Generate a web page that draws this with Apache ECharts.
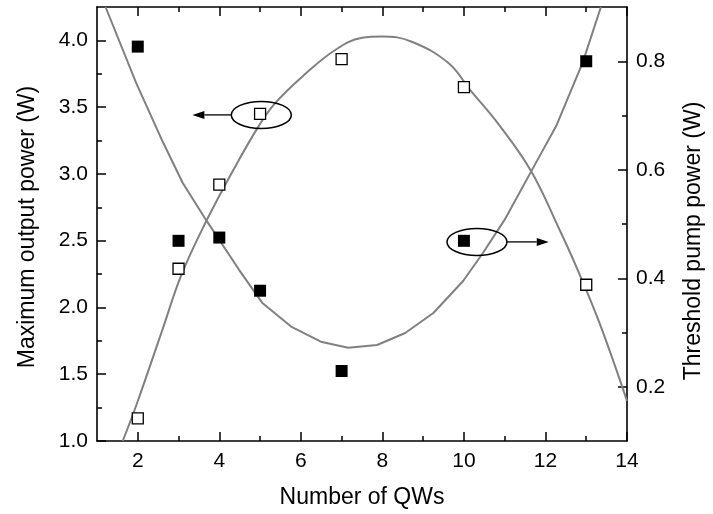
<!DOCTYPE html>
<html>
<head>
<meta charset="utf-8">
<script src="https://cdn.jsdelivr.net/npm/echarts@6/dist/echarts.min.js"></script>
<style>
  html, body { margin: 0; padding: 0; background: #fff; }
  #main { width: 713px; height: 514px; }
</style>
</head>
<body>
<div id="main"></div>
<script>
// measured points (number of QWs)
var qws = [2, 3, 4, 5, 7, 10, 13];
var maxPower = [1.17, 2.29, 2.92, 3.45, 3.86, 3.65, 2.17];       // open squares, left axis
var threshold = [0.827, 0.469, 0.475, 0.377, 0.229, 0.469, 0.80]; // filled squares, right axis

// fitted curves
var fitPowerX = [1.63, 1.96, 2.61, 3.06, 3.62, 4.40, 4.97, 5.37, 6.04, 6.85, 7.50, 7.99, 8.72, 9.62, 10.15, 10.88, 11.65, 12.34, 12.75, 13.32, 14.0];
var fitPowerY = [1.0, 1.264, 1.838, 2.236, 2.61, 3.06, 3.36, 3.53, 3.73, 3.93, 4.02, 4.03, 3.99, 3.83, 3.63, 3.36, 3.02, 2.586, 2.31, 1.888, 1.30];
var fitThrX = [1.21, 1.96, 2.61, 3.10, 3.67, 4.48, 5.05, 5.76, 6.49, 7.16, 7.87, 8.56, 9.25, 9.98, 10.47, 11.0, 11.65, 12.26, 12.91, 13.36];
var fitThrY = [0.90, 0.76, 0.652, 0.576, 0.508, 0.416, 0.355, 0.311, 0.283, 0.272, 0.277, 0.299, 0.336, 0.395, 0.447, 0.508, 0.597, 0.680, 0.797, 0.90];

// tick labels
var xMajor = [2, 4, 6, 8, 10, 12, 14];
var xMinor = [3, 5, 7, 9, 11, 13];
var leftMajor = [1.0, 1.5, 2.0, 2.5, 3.0, 3.5, 4.0];
var leftMinor = [1.25, 1.75, 2.25, 2.75, 3.25, 3.75];
var rightMajor = [0.2, 0.4, 0.6, 0.8];
var rightMinor = [0.3, 0.5, 0.7];

var FONT = "'Liberation Sans', Arial, sans-serif";
var chart = echarts.init(document.getElementById('main'));

function xAx(pos, ticks, len, withLine, withLabel) {
  return {
    type: 'value', position: pos, min: 1, max: 14,
    axisLine: { show: withLine, lineStyle: { color: '#000', width: 1.6 } },
    axisTick: { show: true, inside: true, length: len, customValues: ticks, lineStyle: { color: '#000', width: 1.5 } },
    axisLabel: { show: withLabel, customValues: ticks, margin: 10, color: '#000', fontSize: 21, fontFamily: FONT },
    splitLine: { show: false }
  };
}

function yAx(pos, min, max, ticks, len, withLine, withLabel) {
  return {
    type: 'value', position: pos, min: min, max: max,
    axisLine: { show: withLine, lineStyle: { color: '#000', width: 1.6 } },
    axisTick: { show: true, inside: true, length: len, customValues: ticks, lineStyle: { color: '#000', width: 1.5 } },
    axisLabel: { show: withLabel, customValues: ticks, margin: 9, color: '#000', fontSize: 21, fontFamily: FONT,
      formatter: function (v) { return v.toFixed(1); } },
    splitLine: { show: false }
  };
}

var xBottom = xAx('bottom', xMajor, 9, true, true);
xBottom.name = 'Number of QWs';
xBottom.nameLocation = 'middle';
xBottom.nameGap = 45;
xBottom.nameTextStyle = { color: '#000', fontSize: 23, fontFamily: FONT };

var yLeft = yAx('left', 1, 4.25, leftMajor, 9, true, true);
yLeft.name = 'Maximum output power (W)';
yLeft.nameLocation = 'middle';
yLeft.nameGap = 58;
yLeft.nameTextStyle = { color: '#000', fontSize: 23, fontFamily: FONT, padding: [0, 6, 0, 0] };

var yRight = yAx('right', 0.1, 0.9, rightMajor, 9, true, true);
yRight.name = 'Threshold pump power (W)';
yRight.nameLocation = 'middle';
yRight.nameGap = 55;
yRight.nameTextStyle = { color: '#000', fontSize: 23, fontFamily: FONT, padding: [0, 34, 0, 0] };

option = {
  animation: false,
  backgroundColor: '#fff',
  grid: { left: 97, right: 82, top: 7, bottom: 72 },
  xAxis: [
    xBottom,
    xAx('bottom', xMinor, 5, false, false),
    xAx('top', xMajor, 9, true, false),
    xAx('top', xMinor, 5, false, false)
  ],
  yAxis: [
    yLeft,
    yRight,
    yAx('left', 1, 4.25, leftMinor, 5, false, false),
    yAx('right', 0.1, 0.9, rightMinor, 5, false, false)
  ],
  series: [
    {
      type: 'line', xAxisIndex: 0, yAxisIndex: 0, showSymbol: false, smooth: 0.4,
      data: fitPowerX.map(function (x, i) { return [x, fitPowerY[i]]; }),
      lineStyle: { color: '#808080', width: 2 }, z: 1
    },
    {
      type: 'line', xAxisIndex: 0, yAxisIndex: 1, showSymbol: false,
      data: fitThrX.map(function (x, i) { return [x, fitThrY[i]]; }),
      lineStyle: { color: '#808080', width: 2 }, z: 1
    },
    {
      type: 'scatter', xAxisIndex: 0, yAxisIndex: 0, symbol: 'rect', symbolSize: 11,
      data: qws.map(function (x, i) { return [x, maxPower[i]]; }),
      itemStyle: { color: '#fff', borderColor: '#000', borderWidth: 1.3, opacity: 1 }, z: 3
    },
    {
      type: 'scatter', xAxisIndex: 0, yAxisIndex: 1, symbol: 'rect', symbolSize: 12,
      data: qws.map(function (x, i) { return [x, threshold[i]]; }),
      itemStyle: { color: '#000', opacity: 1 }, z: 3
    }
  ]
};

chart.setOption(option);

// annotation ovals with arrows pointing to each series' axis
function annotation(center, yIdx, tipX, dir) {
  var c = chart.convertToPixel({ xAxisIndex: 0, yAxisIndex: yIdx }, center);
  var tip = chart.convertToPixel({ xAxisIndex: 0, yAxisIndex: yIdx }, [tipX, center[1]]);
  var rx = 30, ry = 13.5;
  var start = c[0] + dir * rx;
  var headBase = tip[0] - dir * 12;
  return [
    { type: 'ellipse', shape: { cx: c[0], cy: c[1], rx: rx, ry: ry },
      style: { fill: null, stroke: '#000', lineWidth: 1.5 }, z: 10 },
    { type: 'line', shape: { x1: start, y1: c[1], x2: headBase, y2: c[1] },
      style: { stroke: '#000', lineWidth: 1.3 }, z: 10 },
    { type: 'polygon', shape: { points: [[tip[0], c[1]], [headBase, c[1] - 4], [headBase, c[1] + 4]] },
      style: { fill: '#000' }, z: 10 }
  ];
}

chart.setOption({
  graphic: annotation([5.03, 3.442], 0, 3.34, -1).concat(annotation([10.32, 0.467], 1, 12.08, 1))
});
</script>
</body>
</html>
